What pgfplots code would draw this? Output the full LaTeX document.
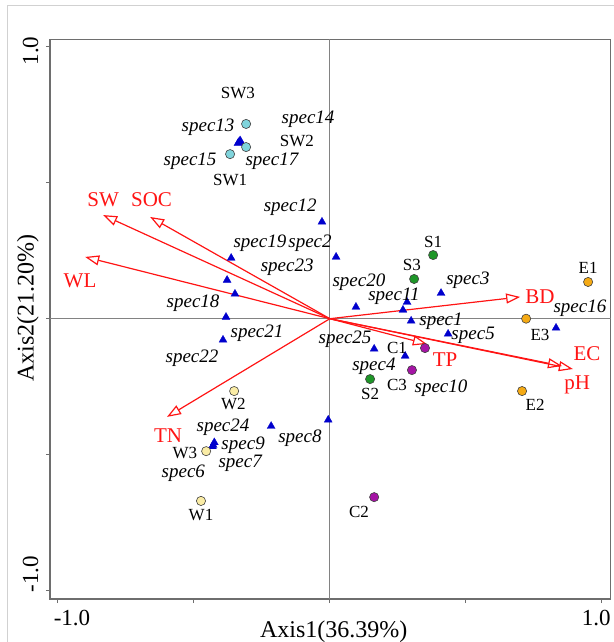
\documentclass[border=0pt]{standalone}
\usepackage{fontspec}
\setmainfont{Liberation Serif}
\usepackage{pgfplots}
\usepackage{pgfplotstable}
\pgfplotsset{compat=1.18}
\usetikzlibrary{arrows.meta}
\definecolor{cSW}{RGB}{128,212,220}
\definecolor{cS}{RGB}{30,150,40}
\definecolor{cC}{RGB}{165,20,165}
\definecolor{cE}{RGB}{245,170,20}
\definecolor{cW}{RGB}{250,236,165}
\definecolor{cSp}{RGB}{0,0,205}
\definecolor{cRed}{RGB}{255,20,20}
\definecolor{cFrame}{RGB}{110,110,110}
\definecolor{cZero}{RGB}{130,130,130}
\newcommand{\tickfont}{\fontsize{23}{23}\selectfont}
\newcommand{\labfont}{\fontsize{24}{24}\selectfont}
\newcommand{\redfont}{\fontsize{21}{21}\selectfont}
\newcommand{\sitefont}{\fontsize{17}{17}\selectfont}
\newcommand{\spfont}{\fontsize{19}{19}\selectfont\itshape}

\pgfplotstableread{
x y label
-0.338 0.830 SW3
-0.121 0.653 SW2
-0.367 0.510 SW1
0.380 0.282 S1
0.302 0.197 S3
0.148 -0.277 S2
0.247 -0.108 C1
0.247 -0.244 C3
0.107 -0.711 C2
0.950 0.186 E1
0.773 -0.060 E3
0.755 -0.317 E2
-0.355 -0.314 W2
-0.533 -0.494 W3
-0.474 -0.722 W1
}\sitelabels

\pgfplotstableread{
x y label
0.409 -0.008 spec1
-0.073 0.278 spec2
0.508 0.142 spec3
0.162 -0.174 spec4
0.527 -0.060 spec5
-0.539 -0.567 spec6
-0.330 -0.532 spec7
-0.110 -0.440 spec8
-0.319 -0.465 spec9
0.409 -0.255 spec10
0.236 0.083 spec11
-0.146 0.411 spec12
-0.448 0.705 spec13
-0.080 0.734 spec14
-0.514 0.580 spec15
0.920 0.039 spec16
-0.213 0.580 spec17
-0.503 0.058 spec18
-0.257 0.278 spec19
0.107 0.135 spec20
-0.268 -0.053 spec21
-0.507 -0.144 spec22
-0.157 0.190 spec23
-0.393 -0.398 spec24
0.056 -0.075 spec25
}\speclabels

\pgfplotstableread{
x y label
-0.834 0.436 SW
-0.656 0.436 SOC
-0.919 0.141 WL
-0.595 -0.430 TN
0.773 0.080 BD
0.946 -0.130 EC
0.910 -0.244 pH
0.424 -0.152 TP
}\envlabels

\pgfplotstableread{
x y label
0.299 -0.008 spec1
0.023 0.227 spec2
0.409 0.094 spec3
0.277 -0.137 spec4
0.435 -0.056 spec5
-0.432 -0.470 spec6
-0.425 -0.455 spec7
-0.006 -0.372 spec8
-0.429 -0.465 spec9
0.269 0.032 spec10
0.284 0.061 spec11
-0.029 0.356 spec12
-0.334 0.650 spec13
-0.330 0.655 spec14
-0.338 0.645 spec15
0.832 -0.034 spec16
-0.328 0.648 spec17
-0.382 0.006 spec18
-0.363 0.223 spec19
0.096 0.043 spec20
-0.393 -0.078 spec21
-0.349 0.091 spec22
-0.378 0.142 spec23
-0.216 -0.395 spec24
0.163 -0.111 spec25
}\species

\begin{document}
\begin{tikzpicture}
\begin{axis}[name=ax, scale only axis, width=560.7pt, height=559.7pt,
  xmin=-1.0294, xmax=1.0331, ymin=-1.0305, ymax=1.0272, clip=false,
  axis line style={cFrame, line width=1.3pt},
  xtick={-1,1}, minor xtick={-0.5,0.5}, ytick={-1,1}, minor ytick={-0.5,0.5},
  xticklabels={}, yticklabels={},
  extra x ticks={0}, extra y ticks={0}, extra x tick labels={}, extra y tick labels={},
  extra tick style={grid=major, major grid style={cZero, line width=0.9pt}},
  tick align=outside, major tick length=4pt, minor tick length=4pt,
  tick style={cFrame, line width=1pt},
  xtick pos=lower, ytick pos=left,
  xlabel={Axis1(36.39\%)}, ylabel={Axis2(21.20\%)},
  xlabel style={at={(axis description cs:0.506,-0.0679)}, anchor=base, font=\labfont, inner sep=0pt},
  ylabel style={at={(axis description cs:-0.0294,0.52)}, anchor=base, font=\labfont, inner sep=0pt},
]
% environmental arrows
\pgfplotsset{envarrow/.style={cRed, line width=1.2pt, -{Triangle[open, length=14pt, width=10pt, line width=1.2pt]}}}
\addplot[envarrow] coordinates {(0,0) (-0.834,0.381)};
\addplot[envarrow] coordinates {(0,0) (-0.661,0.374)};
\addplot[envarrow] coordinates {(0,0) (-0.900,0.227)};
\addplot[envarrow] coordinates {(0,0) (-0.599,-0.361)};
\addplot[envarrow] coordinates {(0,0) (0.700,0.080)};
\addplot[envarrow] coordinates {(0,0) (0.854,-0.174)};
\addplot[envarrow] coordinates {(0,0) (0.894,-0.185)};
\addplot[envarrow] coordinates {(0,0) (0.357,-0.093)};
% species
\addplot[only marks, mark=triangle*, mark size=4.6pt, mark options={fill=cSp, draw=cSp, line width=0.3pt}] table[x=x,y=y] {\species};
% sites
\pgfplotsset{site/.style={only marks, mark=*, mark size=4.6pt, mark options={fill=#1, draw=black!75, line width=0.6pt}}}
\addplot[site=cSW] coordinates {(-0.308,0.716) (-0.308,0.631) (-0.367,0.605)};
\addplot[site=cS] coordinates {(0.380,0.234) (0.310,0.146) (0.148,-0.222)};
\addplot[site=cC] coordinates {(0.350,-0.108) (0.302,-0.189) (0.163,-0.656)};
\addplot[site=cE] coordinates {(0.950,0.135) (0.722,0.0) (0.707,-0.266)};
\addplot[site=cW] coordinates {(-0.352,-0.266) (-0.455,-0.487) (-0.474,-0.670)};
% labels
\addplot[only marks, mark=none, nodes near coords, point meta=explicit symbolic,
  nodes near coords style={anchor=center, font=\sitefont, text=black, inner sep=0pt}] table[x=x,y=y,meta=label] {\sitelabels};
\addplot[only marks, mark=none, nodes near coords, point meta=explicit symbolic,
  nodes near coords style={anchor=center, font=\spfont, text=black, inner sep=0pt}] table[x=x,y=y,meta=label] {\speclabels};
\addplot[only marks, mark=none, nodes near coords, point meta=explicit symbolic,
  nodes near coords style={anchor=center, font=\redfont, text=cRed, inner sep=0pt}] table[x=x,y=y,meta=label] {\envlabels};
% tick labels
\node[font=\tickfont, anchor=base, inner sep=0pt] at (axis description cs:0.0392,-0.0482) {-1.0};
\node[font=\tickfont, anchor=base, inner sep=0pt] at (axis description cs:0.974,-0.0482) {1.0};
\node[font=\tickfont, anchor=base, inner sep=0pt, rotate=90] at (axis description cs:-0.0214,0.979) {1.0};
\node[font=\tickfont, anchor=base, inner sep=0pt, rotate=90] at (axis description cs:-0.0214,0.0447) {-1.0};
\end{axis}
\draw[black!18, line width=1pt] ([shift={(-42pt,-43pt)}]ax.south west) -- ([shift={(-42pt,33.3pt)}]ax.north west) -- ([shift={(3.3pt,33.3pt)}]ax.north east);
\pgfresetboundingbox
\path[use as bounding box] ([shift={(-50pt,-43pt)}]ax.south west) rectangle ([shift={(3.3pt,39.3pt)}]ax.north east);
\end{tikzpicture}
\end{document}
